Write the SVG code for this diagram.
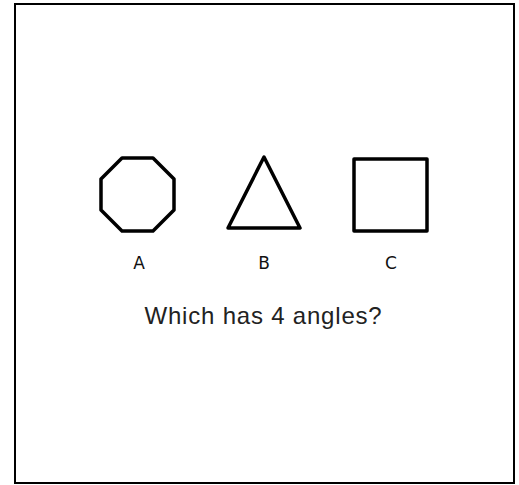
<svg xmlns="http://www.w3.org/2000/svg" width="519" height="485" viewBox="0 0 519 485">
<style>
.shape{fill:none;stroke:#000;stroke-width:3.5;stroke-linejoin:round}
.lbl{font-family:"DejaVu Sans",sans-serif;font-size:17px;fill:#111;text-anchor:middle}
.q{font-family:"Liberation Sans",Arial,sans-serif;font-size:24px;letter-spacing:0.8px;fill:#222;text-anchor:middle}
</style>
<rect x="15" y="4" width="499" height="479" fill="#fff" stroke="#000" stroke-width="2"/>
<g id="A">
<polygon class="shape" points="122,158 153,158 174,179 174,210 153,231 122,231 101,210 101,179"/>
<text class="lbl" x="139" y="269">A</text>
</g>
<g id="B">
<polygon class="shape" points="264,157 300,228 228,228"/>
<text class="lbl" x="264" y="269">B</text>
</g>
<g id="C">
<rect class="shape" x="354" y="159" width="73" height="72"/>
<text class="lbl" x="391" y="269">C</text>
</g>
<text class="q" x="263.5" y="324">Which has 4 angles?</text>
</svg>
